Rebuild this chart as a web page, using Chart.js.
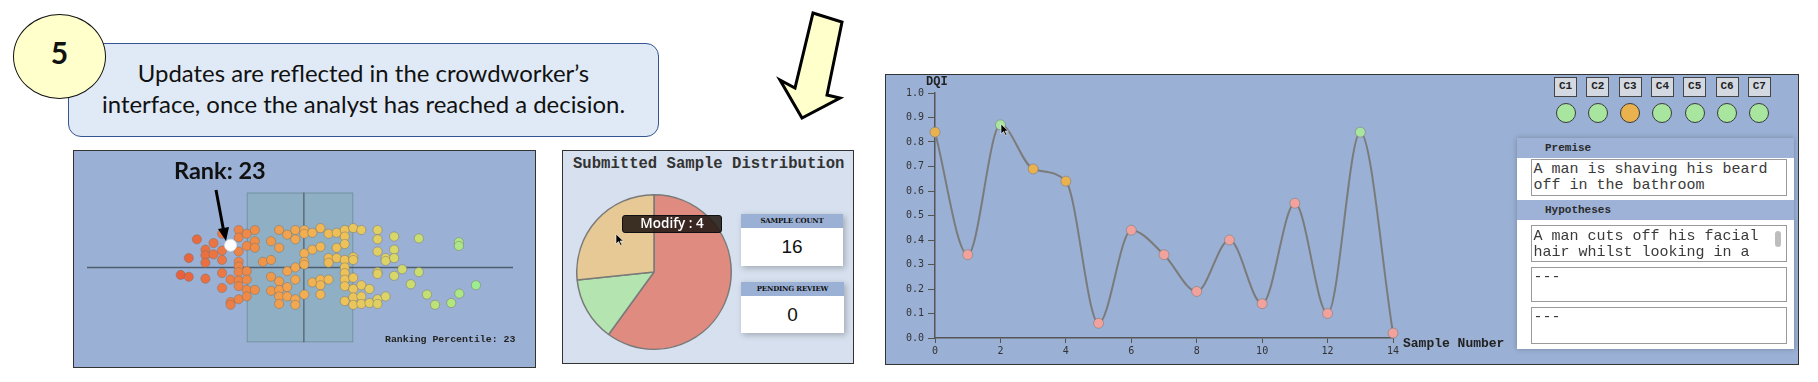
<!DOCTYPE html>
<html>
<head>
<meta charset="utf-8">
<script src="https://cdn.jsdelivr.net/npm/chart.js@4.4.1/dist/chart.umd.min.js"></script>
<style>
html,body{margin:0;padding:0;background:#fff;width:1818px;height:382px;overflow:hidden;}
body{position:relative;font-family:Lato,"Open Sans",sans-serif;}
.abs{position:absolute;box-sizing:border-box;}
.mono{font-family:"Liberation Mono","DejaVu Sans Mono",monospace;}
.callout{left:68px;top:43px;width:591px;height:94px;border:1.5px solid #34558F;border-radius:13px;background:#DFEAF6;}
.callout span{position:absolute;left:0;width:100%;text-align:center;white-space:nowrap;font-size:23px;line-height:31px;color:#111;transform:scaleX(1.04);transform-origin:50% 50%;}
.num5{left:13px;top:14px;width:93px;height:85px;border-radius:50%;background:#FFFFCC;border:1.5px solid #111;
  text-align:center;font-weight:bold;font-size:30px;line-height:74px;color:#111;}
.panel{border:1.5px solid #333;}
.statbox{background:#fff;box-shadow:2px 2px 6px rgba(0,0,0,0.25);}
.stathead{position:absolute;left:0;top:0;width:100%;height:14px;background:#9AB0D4;text-align:center;
  font-family:"DejaVu Serif",serif;font-weight:bold;font-size:7px;line-height:14px;color:#111;letter-spacing:-0.2px;}
.statval{position:absolute;left:0;top:14px;width:100%;text-align:center;font-family:"Liberation Sans",Arial,sans-serif;font-size:19px;color:#111;}
.cbox{width:23px;height:20px;border:1.5px solid #444;background:#D3D8E1;text-align:center;font-weight:bold;font-size:11px;line-height:17px;color:#222;}
.cdot{width:20px;height:20px;border-radius:50%;border:1.5px solid #3a3a3a;}
.tbox{border:1px solid #9a9a9a;background:#fff;font-size:15px;line-height:15.5px;color:#3a3a3a;overflow:hidden;padding:2px 18px 0 1.5px;}
.band{left:0;width:100%;height:20px;background:#9DB2D6;font-weight:bold;font-size:11px;line-height:20px;color:#2a2a2a;padding-left:28px;}
</style>
</head>
<body>

<!-- callout -->
<div class="abs callout"><span style="top:14px">Updates are reflected in the crowdworker’s</span><span style="top:45px">interface, once the analyst has reached a decision.</span></div>
<div class="abs num5">5</div>

<!-- big yellow arrow -->
<svg class="abs" style="left:0;top:0" width="1818" height="382">
  <polygon points="813,13 842,22 827,95 840,98 802,118 780,80 795,88" fill="#FFFFCC" stroke="#000" stroke-width="3" stroke-linejoin="miter"/>
</svg>

<!-- scatter panel -->
<div class="abs panel" style="left:73px;top:150px;width:463px;height:218px;background:#9AB0D4;"></div>
<canvas id="swarm" class="abs" style="left:80px;top:150px" width="440" height="218"></canvas>
<div id="rankLabel" class="abs" style="left:174px;top:155px;font-weight:bold;font-size:23.5px;line-height:30px;color:#111;"></div>
<svg class="abs" style="left:0;top:0" width="600" height="382">
  <line x1="216" y1="190" x2="223.5" y2="230" stroke="#000" stroke-width="3"/>
  <polygon points="218,229 229,227 226,241" fill="#000"/>
</svg>
<div id="rankPct" class="abs mono" style="left:385px;top:333px;font-weight:bold;font-size:9.9px;line-height:14px;color:#222;"></div>

<!-- pie panel -->
<div class="abs panel" style="left:562px;top:150px;width:292px;height:214px;background:#D6E0EE;"></div>
<div class="abs mono" style="left:573px;top:154px;font-weight:bold;font-size:15.6px;line-height:20px;color:#333;">Submitted Sample Distribution</div>
<canvas id="pie" class="abs" style="left:576px;top:194px" width="156" height="156"></canvas>
<div class="abs statbox" style="left:741px;top:214px;width:102px;height:52px;">
  <div class="stathead">SAMPLE COUNT</div><div class="statval" id="sampleCount" style="line-height:38px"></div></div>
<div class="abs statbox" style="left:741px;top:282px;width:103px;height:51px;">
  <div class="stathead">PENDING REVIEW</div><div class="statval" id="pending" style="line-height:38px"></div></div>
<div id="pieTip" class="abs" style="left:622px;top:215px;width:100px;height:18px;background:rgba(35,25,20,0.88);border:1.5px solid #111;border-radius:3px;
  color:#fff;text-align:center;font-family:'Open Sans',sans-serif;font-weight:600;font-size:13.5px;line-height:15px;"></div>

<!-- line chart panel -->
<div class="abs panel" style="left:885px;top:74px;width:914px;height:291px;background:#9AB0D4;"></div>
<canvas id="dqi" class="abs" style="left:885px;top:74px" width="625" height="291"></canvas>
<div class="abs mono" style="left:926px;top:75px;font-weight:bold;font-size:12px;line-height:14px;color:#222;">DQI</div>
<div class="abs mono" style="left:1403px;top:336px;font-weight:bold;font-size:13px;line-height:16px;color:#222;">Sample Number</div>
<div id="criteria"></div>

<!-- text panel -->
<div class="abs mono" style="left:1517px;top:138px;width:277px;height:211px;background:#fff;box-shadow:0 0 5px rgba(0,0,0,0.25);">
  <div class="abs band" style="top:0">Premise</div>
  <div class="abs tbox mono" id="premise" style="left:14px;top:21px;width:256px;height:37px;padding-top:2px;line-height:16px;"></div>
  <div class="abs band" style="top:62px">Hypotheses</div>
  <div id="hyps"></div>
</div>

<!-- cursors -->
<svg class="abs" style="left:615px;top:233px" width="12" height="14"><path d="M1,1 L1,11 L3.5,8.6 L5.5,12.5 L7,11.8 L5,8 L8.3,8 Z" fill="#000" stroke="#fff" stroke-width="0.6"/></svg>
<svg class="abs" style="left:1000px;top:123px" width="12" height="14"><path d="M1,1 L1,11 L3.5,8.6 L5.5,12.5 L7,11.8 L5,8 L8.3,8 Z" fill="#000" stroke="#fff" stroke-width="0.6"/></svg>

<script>
// ================= DATA =================
// Beeswarm (ranking percentile distribution)
const swarmX = [25.8,22.0,23.9,23.9,27.8,27.8,27.8,27.8,29.7,29.7,31.7,31.7,31.7,31.7,31.7,33.7,33.7,33.7,
  35.6,35.6,35.6,35.6,35.6,35.6,35.6,35.6,35.6,37.5,37.5,37.5,37.5,37.5,37.5,39.4,39.4,39.4,39.4,41.3,
  43.2,43.2,43.2,43.2,45.1,45.1,45.1,45.1,45.1,45.1,47.0,47.0,47.0,47.0,48.9,48.9,48.9,48.9,48.9,48.9,
  51.0,51.0,51.0,51.0,51.0,51.0,52.9,52.9,52.9,54.8,54.8,54.8,54.8,54.8,56.7,56.7,56.7,56.7,58.6,58.6,58.6,
  60.5,60.5,60.5,60.5,60.5,60.5,60.5,60.5,60.5,62.5,62.5,62.5,62.5,62.5,62.5,62.5,64.4,64.4,64.4,64.4,
  66.3,66.3,68.2,68.2,68.2,68.2,68.2,68.2,68.2,70.1,70.1,70.1,72.1,72.1,72.1,72.1,74.0,76.0,77.9,77.9,
  79.8,81.7,85.5,87.3,87.3,87.4,91.3];
const swarmY = [30,-8,-10,10,19,13,5,-12,26,14,36,18,8,-6,-22,-13,-37,-40,
  40,32,17,6,1,-5,-14,-20,-34,36,23,-4,-13,-24,-31,40,28,21,-24,6,
  28,8,-10,-25,40,21,-15,-24,-31,-39,35,-4,-21,-31,40,30,0,-13,-34,-40,
  40,36,15,6,3,-29,37,19,-16,42,22,-13,-19,-29,36,10,5,-13,37,21,10,
  40,33,25,8,0,-6,-13,-20,-36,42,11,8,-11,-23,-32,-40,40,-19,-31,-39,
  -23,-38,40,30,17,-5,-7,-34,-39,10,7,-31,33,19,10,-9,-2,-18,31,-5,
  -29,-40,-38,27,23,-28,-19];
const rankPoint = [33.7, 23.7];
const rankPercentile = 23;
const boxQuartiles = [37.5, 50.9, 62.5];
const boxSpan = [-80, 80];
const axisRange = [0, 100];

// Submitted sample distribution
const pieLabels = ['Reject', 'Accept', 'Modify'];
const pieValues = [9, 2, 4];
const sampleCount = 16;
const pendingReview = 0;

// DQI per sample
const sampleNumbers = [0,1,2,3,4,5,6,7,8,9,10,11,12,13,14];
const dqiValues = [0.84,0.34,0.87,0.69,0.64,0.06,0.44,0.34,0.19,0.40,0.14,0.55,0.10,0.84,0.02];
const dqiStatus = ['mid','low','high','mid','mid','low','low','low','low','low','low','low','low','high','low'];
const yTickLabels = ['0.0','0.1','0.2','0.3','0.4','0.5','0.6','0.7','0.8','0.9','1.0'];
const xTickLabels = ['0','2','4','6','8','10','12','14'];

// Criteria and text
const criteriaLabels = ['C1','C2','C3','C4','C5','C6','C7'];
const criteriaStatus = ['high','high','mid','high','high','high','high'];
const premiseText = 'A man is shaving his beard off in the bathroom';
const hypotheses = ['A man cuts off his facial hair whilst looking in a', '---', '---'];

// ================= STYLE =================
const statusColor = {low:'#F2A29C', mid:'#EAB14F', high:'#A8E6A0'};
const swarmStops = [[22,[232,96,60]],[32,[236,122,69]],[40,[240,144,72]],[48,[242,166,80]],[56,[240,186,85]],
  [64,[232,200,92]],[70,[220,212,104]],[78,[200,222,112]],[85,[180,230,126]],[91,[156,236,144]]];
function swarmColor(v){
  if (v <= swarmStops[0][0]) return 'rgb('+swarmStops[0][1]+')';
  for (let i=1;i<swarmStops.length;i++){
    if (v <= swarmStops[i][0]){
      const [a,ca]=swarmStops[i-1],[b,cb]=swarmStops[i]; const t=(v-a)/(b-a);
      return 'rgb('+ca.map((c,k)=>Math.round(c+(cb[k]-c)*t)).join(',')+')';
    }
  }
  return 'rgb('+swarmStops[swarmStops.length-1][1]+')';
}

// ================= HTML texts =================
document.getElementById('rankLabel').textContent = 'Rank: ' + rankPercentile;
document.getElementById('rankPct').textContent = 'Ranking Percentile: ' + rankPercentile;
document.getElementById('sampleCount').textContent = sampleCount;
document.getElementById('pending').textContent = pendingReview;
document.getElementById('pieTip').textContent = pieLabels[2] + ' : ' + pieValues[2];
document.getElementById('premise').textContent = premiseText;
(function(){
  const c = document.getElementById('criteria');
  criteriaLabels.forEach((lab,i)=>{
    const left = 1554 + i*32.3;
    const b = document.createElement('div'); b.className='abs cbox mono';
    b.style.left = left+'px'; b.style.top='77px'; b.textContent = lab; c.appendChild(b);
    const d = document.createElement('div'); d.className='abs cdot';
    d.style.left = (left+1.5)+'px'; d.style.top='103px'; d.style.background = statusColor[criteriaStatus[i]]; c.appendChild(d);
  });
  const h = document.getElementById('hyps');
  const tops = [87, 129, 169], heights=[37,35,37];
  hypotheses.forEach((t,i)=>{
    const d = document.createElement('div'); d.className='abs tbox mono';
    d.style.left='14px'; d.style.top=tops[i]+'px'; d.style.width='256px'; d.style.height=heights[i]+'px';
    d.style.paddingTop = (i===0?'3px':'2px');
    d.textContent = t; h.appendChild(d);
    if(i===0){ const s=document.createElement('div'); s.className='abs';
      s.style.cssText='right:5px;top:5px;width:6px;height:16px;border-radius:3px;background:#bdbdbd;'; d.appendChild(s); }
  });
})();

// ================= CHARTS =================
Chart.defaults.font.family = '"DejaVu Sans Mono", monospace';
Chart.defaults.color = '#333';

const boxPlugin = {
  id:'boxPlot',
  beforeDatasetsDraw(chart){
    const {ctx, scales:{x,y}} = chart;
    const x1=x.getPixelForValue(boxQuartiles[0]), xm=x.getPixelForValue(boxQuartiles[1]), x3=x.getPixelForValue(boxQuartiles[2]);
    const yt=y.getPixelForValue(boxSpan[1]), yb=y.getPixelForValue(boxSpan[0]), y0=y.getPixelForValue(0);
    ctx.save();
    ctx.fillStyle='rgba(115,173,159,0.30)';
    ctx.fillRect(x1,yt,x3-x1,yb-yt);
    ctx.strokeStyle='rgba(100,130,145,0.6)'; ctx.lineWidth=1;
    ctx.strokeRect(x1+0.5,yt+0.5,x3-x1-1,yb-yt-1);
    ctx.strokeStyle='#5c6b7a'; ctx.lineWidth=1.5;
    ctx.beginPath(); ctx.moveTo(xm,yt); ctx.lineTo(xm,yb); ctx.stroke();
    ctx.strokeStyle='#4f5e6e';
    ctx.beginPath(); ctx.moveTo(x.getPixelForValue(axisRange[0]),y0); ctx.lineTo(x.getPixelForValue(axisRange[1]),y0); ctx.stroke();
    ctx.restore();
  }
};

new Chart(document.getElementById('swarm'), {
  type:'scatter',
  data:{datasets:[
    {data:[{x:rankPoint[0],y:rankPoint[1]}], backgroundColor:'#ffffff', borderColor:'rgba(220,220,220,0.9)', borderWidth:1, pointRadius:6},
    {data:swarmX.map((v,i)=>({x:v,y:swarmY[i]})), backgroundColor:swarmX.map(swarmColor),
     borderColor:'rgba(120,110,100,0.45)', borderWidth:1, pointRadius:4.6}
  ]},
  options:{responsive:false, animation:false, events:[], layout:{padding:0},
    plugins:{legend:{display:false}, tooltip:{enabled:false}},
    scales:{x:{type:'linear',min:0,max:100,display:false}, y:{min:-100,max:118,display:false}}},
  plugins:[boxPlugin]
});

new Chart(document.getElementById('pie'), {
  type:'pie',
  data:{labels:pieLabels, datasets:[{data:pieValues, backgroundColor:['#E08B80','#B4E5B0','#E6C994'], borderColor:'#7a7a7a', borderWidth:1.5}]},
  options:{responsive:false, animation:false, events:[], layout:{padding:0},
    plugins:{legend:{display:false}, tooltip:{enabled:false}}}
});

new Chart(document.getElementById('dqi'), {
  type:'line',
  data:{datasets:[{
    data:sampleNumbers.map((n,i)=>({x:n,y:dqiValues[i]})),
    borderColor:'#7b7b7b', borderWidth:2, cubicInterpolationMode:'monotone', fill:false,
    pointRadius:5, pointBackgroundColor:dqiStatus.map(s=>statusColor[s]),
    pointBorderColor:'rgba(125,125,125,0.6)', pointBorderWidth:1, clip:false
  }]},
  options:{responsive:false, animation:false, events:[],
    layout:{padding:{top:19,right:117,bottom:0,left:0}},
    plugins:{legend:{display:false}, tooltip:{enabled:false}},
    scales:{
      x:{type:'linear', min:0, max:14,
         ticks:{stepSize:2, padding:2, font:{size:10}, color:'#333', maxRotation:0,
                callback:(v,i)=>xTickLabels[i]},
         grid:{drawOnChartArea:false, drawTicks:true, tickLength:5, color:'#555'},
         border:{color:'#555', width:1.5},
         afterFit:(s)=>{s.height=27;}},
      y:{min:0, max:1,
         ticks:{stepSize:0.1, padding:4, font:{size:10}, color:'#333', callback:(v,i)=>yTickLabels[i]},
         grid:{drawOnChartArea:false, drawTicks:true, tickLength:7, color:'#555'},
         border:{color:'#555', width:1.5},
         afterFit:(s)=>{s.width=50;}}
    }}
});
</script>
</body>
</html>
